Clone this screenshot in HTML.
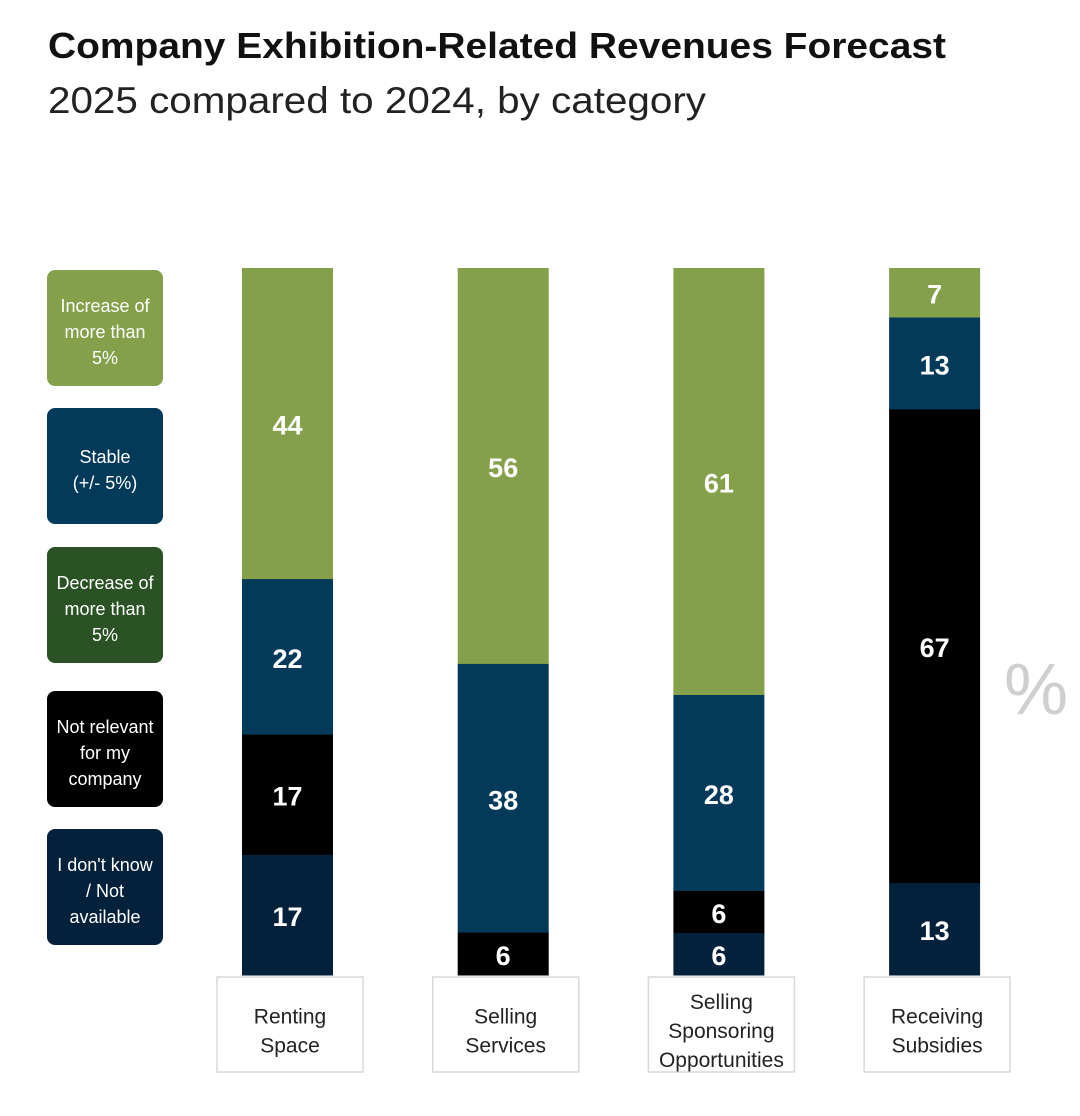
<!DOCTYPE html>
<html><head><meta charset="utf-8"><style>
body{margin:0;background:#fff;width:1080px;height:1111px;overflow:hidden;font-family:"Liberation Sans",sans-serif}
</style></head><body>
<svg width="1080" height="1111" xmlns="http://www.w3.org/2000/svg">
<text x="48" y="58" font-size="36" font-weight="bold" fill="#111" textLength="898" lengthAdjust="spacingAndGlyphs">Company Exhibition-Related Revenues Forecast</text>
<text x="48" y="113" font-size="37" fill="#222" textLength="658" lengthAdjust="spacingAndGlyphs">2025 compared to 2024, by category</text>
<text x="1036" y="714" font-size="72" fill="#cfcfcf" text-anchor="middle">%</text>
<g id="legend"></g>
<g id="bars"></g>
</svg>
<script>
const categories=[["Renting","Space"],["Selling","Services"],["Selling","Sponsoring","Opportunities"],["Receiving","Subsidies"]];
const seriesNames=[["Increase of","more than","5%"],["Stable","(+/- 5%)"],["Decrease of","more than","5%"],["Not relevant","for my","company"],["I don't know","/ Not","available"]];
const increase=[44,56,61,7];
const stable=[22,38,28,13];
const decrease=[0,0,0,0];
const notRelevant=[17,6,6,67];
const dontKnow=[17,0,6,13];
const colors=["#84a04a","#033a5a","#2a5224","#000000","#03213b"];
const series=[increase,stable,decrease,notRelevant,dontKnow];
const NS="http://www.w3.org/2000/svg";
const top0=268,bot=975,barW=91,x0=242,step=215.7;
function mk(t,a){const e=document.createElementNS(NS,t);for(const k in a)e.setAttribute(k,a[k]);return e;}
const lg=document.getElementById('legend');
const legY=[270,408,547,691,829];
seriesNames.forEach((n,i)=>{
  const g=mk('g',{});
  
  
  g.appendChild(mk('rect',{x:47,y:legY[i],width:116,height:116,rx:8,fill:colors[i]}));
  const t=mk('text',{x:105,'font-size':18,fill:'#fff','text-anchor':'middle'});
  const y0=legY[i]+58-(n.length-1)*13+10;
  n.forEach((l,j)=>{const s=mk('tspan',{x:105,y:y0+j*26});s.textContent=l;t.appendChild(s);});
  g.appendChild(t);lg.appendChild(g);
});
const bg=document.getElementById('bars');
categories.forEach((c,ci)=>{
  const x=x0+ci*step;
  const total=series.reduce((s,a)=>s+a[ci],0);
  const sc=v=>v/total*(bot-top0);
  let y=top0;
  series.forEach((a,si)=>{
    const v=a[ci];if(!v)return;
    const h=sc(v);
    const r=mk('rect',{x:x,y:y,width:barW,height:h+0.5,fill:colors[si]});
    
    
    bg.appendChild(r);
    const t=mk('text',{x:x+barW/2,y:y+h/2+11,'font-size':27,'font-weight':'bold',fill:'#fff','text-anchor':'middle'});
    
    
    t.textContent=v;bg.appendChild(t);
    y+=h;
  });
  const bx=x-25;
  const b=mk('rect',{x:bx,y:977,width:146,height:95,fill:'#fff',stroke:'#d8d8d8','stroke-width':1.5});
  
  
  bg.appendChild(b);
  const t=mk('text',{'font-size':21,fill:'#222','text-anchor':'middle'});
  
  
  const yc=1024-(c.length-1)*14.5+14;
  c.forEach((l,j)=>{const s=mk('tspan',{x:bx+73,y:yc+j*29});s.textContent=l;t.appendChild(s);});
  bg.appendChild(t);
});
</script>
</body></html>
